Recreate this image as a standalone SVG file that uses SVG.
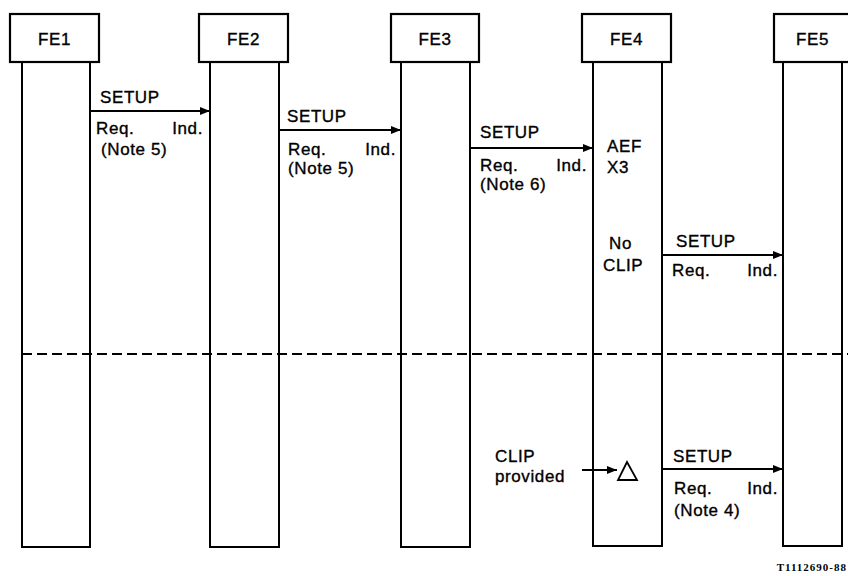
<svg xmlns="http://www.w3.org/2000/svg" width="848" height="576" viewBox="0 0 848 576">
<defs>
<style>
.box{fill:#fff;stroke:#000;stroke-width:2.2}
.life{fill:none;stroke:#000;stroke-width:2}
.t{font-family:"Liberation Sans",Arial,sans-serif;font-size:17px;fill:#000;stroke:#000;stroke-width:0.35;letter-spacing:0.6px}
.msg{stroke:#000;stroke-width:1.8;fill:none}
.dash{stroke:#000;stroke-width:2;stroke-dasharray:10 5;fill:none}
</style>
<marker id="ah" viewBox="0 0 10 8" refX="10" refY="4" markerWidth="10" markerHeight="8" markerUnits="userSpaceOnUse" orient="auto">
<path d="M0,0 L10,4 L0,8 Z" fill="#000"/>
</marker>
</defs>
<rect width="848" height="576" fill="#fff"/>
<g id="FE1">
<rect class="life" x="22" y="62" width="68" height="485"/>
<rect class="box" x="10" y="14" width="89" height="48"/>
<text class="t" x="54.5" y="45" text-anchor="middle">FE1</text>
</g>
<g id="FE2">
<rect class="life" x="210" y="62" width="69" height="485"/>
<rect class="box" x="199" y="14" width="89" height="48"/>
<text class="t" x="243.5" y="45" text-anchor="middle">FE2</text>
</g>
<g id="FE3">
<rect class="life" x="401" y="62" width="69" height="485"/>
<rect class="box" x="391" y="14" width="88" height="48"/>
<text class="t" x="435" y="45" text-anchor="middle">FE3</text>
</g>
<g id="FE4">
<rect class="life" x="593" y="62" width="69" height="484"/>
<rect class="box" x="582" y="14" width="89" height="48"/>
<text class="t" x="626.5" y="45" text-anchor="middle">FE4</text>
<text class="t" x="607" y="152">AEF</text>
<text class="t" x="607" y="173">X3</text>
<text class="t" x="609" y="249">No</text>
<text class="t" x="603" y="271">CLIP</text>
<path d="M627,462 L637,480 L618,480 Z" fill="none" stroke="#000" stroke-width="1.8"/>
</g>
<g id="FE5">
<rect class="life" x="783" y="62" width="59" height="484"/>
<rect class="box" x="774" y="14" width="80" height="48"/>
<text class="t" x="796" y="45">FE5</text>
</g>
<g id="connectors">
<line class="dash" x1="22" y1="354" x2="848" y2="354"/>
<line class="msg" x1="90" y1="111" x2="210" y2="111" marker-end="url(#ah)"/>
<line class="msg" x1="279" y1="130" x2="401" y2="130" marker-end="url(#ah)"/>
<line class="msg" x1="470" y1="148" x2="593" y2="148" marker-end="url(#ah)"/>
<line class="msg" x1="662" y1="255" x2="783" y2="255" marker-end="url(#ah)"/>
<line class="msg" x1="662" y1="469" x2="783" y2="469" marker-end="url(#ah)"/>
<line class="msg" x1="582" y1="470" x2="617" y2="470" marker-end="url(#ah)"/>
</g>
<g id="labels">
<text class="t" x="100" y="103">SETUP</text>
<text class="t" x="96" y="134">Req.</text>
<text class="t" x="203" y="134" text-anchor="end">Ind.</text>
<text class="t" x="101" y="155">(Note 5)</text>
<text class="t" x="287" y="122">SETUP</text>
<text class="t" x="288" y="155">Req.</text>
<text class="t" x="396" y="155" text-anchor="end">Ind.</text>
<text class="t" x="288" y="174">(Note 5)</text>
<text class="t" x="480" y="138">SETUP</text>
<text class="t" x="480" y="171">Req.</text>
<text class="t" x="587" y="171" text-anchor="end">Ind.</text>
<text class="t" x="480" y="190">(Note 6)</text>
<text class="t" x="676" y="247">SETUP</text>
<text class="t" x="672" y="276">Req.</text>
<text class="t" x="778" y="276" text-anchor="end">Ind.</text>
<text class="t" x="495" y="462">CLIP</text>
<text class="t" x="495" y="482">provided</text>
<text class="t" x="673" y="462">SETUP</text>
<text class="t" x="674" y="494">Req.</text>
<text class="t" x="778" y="494" text-anchor="end">Ind.</text>
<text class="t" x="674" y="516">(Note 4)</text>
<text x="847" y="571" text-anchor="end" font-family="Liberation Serif,serif" font-size="11" font-weight="bold" letter-spacing="1">T1112690-88</text>
</g>
</svg>
